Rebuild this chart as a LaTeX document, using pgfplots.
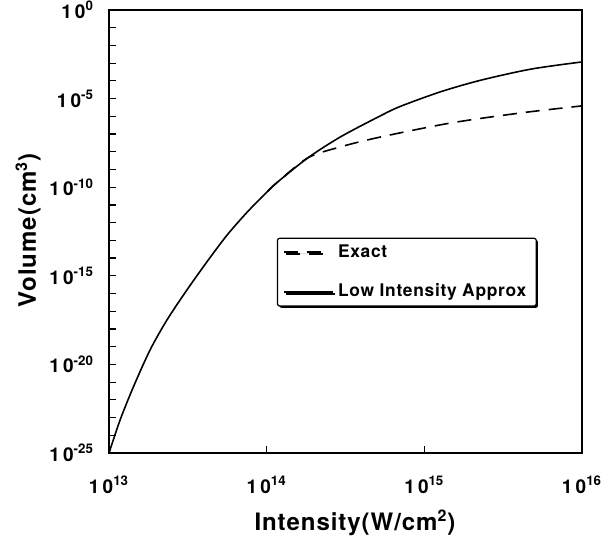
\documentclass[border=0pt]{standalone}
\usepackage{fontspec}
\setmainfont{TeX Gyre Heros}
\newfontfamily\spfont[LetterSpace=4]{TeX Gyre Heros}
\usepackage{pgfplots}
\pgfplotsset{compat=1.18}
\usetikzlibrary{shadows}
\pgfplotsset{shortleg/.style={legend image code/.code={\draw[##1] (0pt,0pt) -- (18.5pt,0pt);}}}
\begin{document}
\begin{tikzpicture}
\useasboundingbox (-54.5pt,-44.5pt) rectangle (253.5pt,226.5pt);
\begin{axis}[
  xmode=log, ymode=log,
  scale only axis,
  width=236.5pt, height=221.5pt,
  xmin=1e13, xmax=1e16,
  ymin=1e-25, ymax=1,
  axis line style={line width=0.8pt},
  tick align=inside,
  xtick pos=lower, ytick pos=left,
  major tick length=3.5pt, minor tick length=3.5pt,
  every tick/.style={black, line width=0.6pt},
  xtick={1e13,1e14,1e15,1e16},
  xticklabels={{\bfseries 1\,0\textsuperscript{13}},{\bfseries 1\,0\textsuperscript{14}},{\bfseries 1\,0\textsuperscript{15}},{\bfseries 1\,0\textsuperscript{16}}},
  ytick={1e-25,1e-20,1e-15,1e-10,1e-5,1},
  yticklabels={{\bfseries 1\,0\textsuperscript{-25}},{\bfseries 1\,0\textsuperscript{-20}},{\bfseries 1\,0\textsuperscript{-15}},{\bfseries 1\,0\textsuperscript{-10}},{\bfseries 1\,0\textsuperscript{-5}},{\bfseries 1\,0\textsuperscript{0}}},
  xminorticks=false,
  minor ytick={1e-24,1e-23,1e-22,1e-21,1e-19,1e-18,1e-17,1e-16,1e-14,1e-13,1e-12,1e-11,1e-9,1e-8,1e-7,1e-6,1e-4,1e-3,1e-2,1e-1},
  ticklabel style={font=\fontsize{9.5}{11}\selectfont},
  xticklabel style={yshift=-8pt},
  yticklabel style={xshift=-4pt},
  xlabel={\bfseries Intensity(W/cm\textsuperscript{2})},
  ylabel={\bfseries Volume(cm\textsuperscript{3})},
  every axis x label/.style={at={(axis description cs:0.52,0)}, yshift=-35pt, anchor=center,
    font=\spfont\fontsize{12}{14}\selectfont},
  every axis y label/.style={at={(axis description cs:-0.171,0.503)}, rotate=90, anchor=center,
    font=\spfont\fontsize{12}{14}\selectfont},
  legend style={at={(0.355,0.486)}, anchor=north west, draw=black, line width=0.6pt,
    fill=white, rounded corners=1pt,
    drop shadow={shadow xshift=0.9pt, shadow yshift=-0.9pt, fill=black, opacity=1},
    font=\spfont\fontsize{8.7}{10}\selectfont\bfseries,
    row sep=8pt, inner xsep=3pt, inner ysep=1pt,
    cells={anchor=west}},
  legend image code/.code={\draw[#1] (0pt,0pt) -- (24.5pt,0pt);},
]
\addplot[black, line width=0.8pt, dash pattern=on 7pt off 4.5pt, smooth, shortleg] coordinates {
  (1.009e14,5.62e-11) (1.169e14,1.905e-10) (1.820e14,4.47e-9) (2.917e14,1.86e-8)
  (5.25e14,6.76e-8) (1.462e15,4.17e-7) (4.074e15,1.55e-6) (8.71e15,3.39e-6) (1e16,3.89e-6)
};
\addlegendentry{Exact}
\addplot[black, line width=0.8pt, smooth] coordinates {
  (1e13,1e-25) (1.175e13,7.24e-24) (1.429e13,5.50e-22) (1.820e13,6.46e-20)
  (2.328e13,3.16e-18) (3.119e13,1.585e-16) (4.188e13,6.31e-15) (5.610e13,2.00e-13)
  (7.534e13,3.98e-12) (1.009e14,5.62e-11) (1.169e14,1.905e-10) (1.820e14,4.47e-9)
  (2.951e14,7.08e-8) (5.321e14,1.122e-6) (7.129e14,3.80e-6) (1.282e15,2.51e-5)
  (2.307e15,1.122e-4) (4.786e15,4.68e-4) (1e16,1.175e-3)
};
\addlegendentry{Low Intensity Approx}
\end{axis}
\end{tikzpicture}
\end{document}
